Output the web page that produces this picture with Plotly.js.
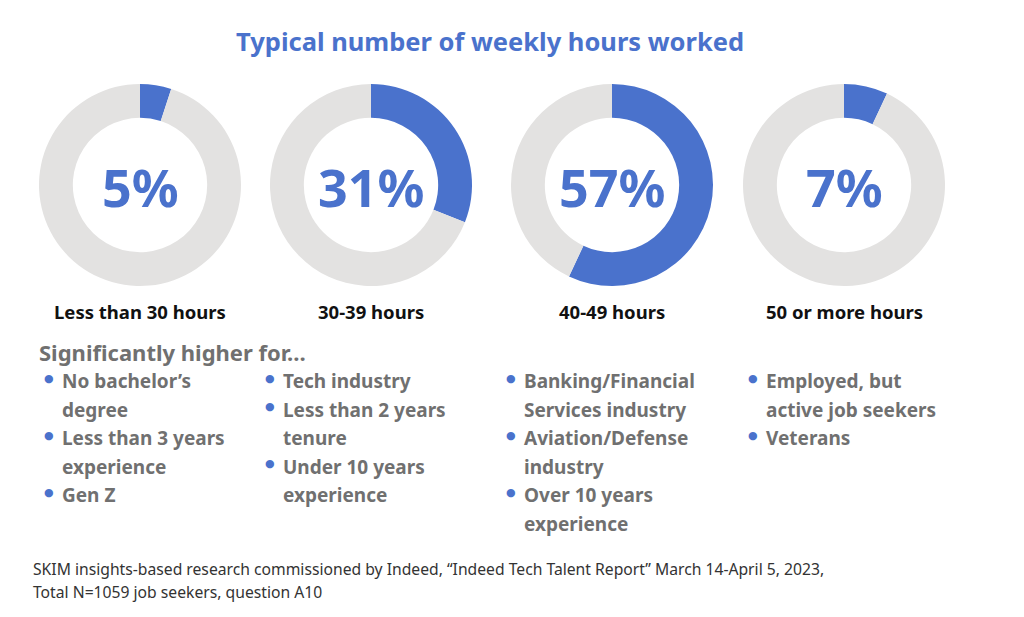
<!DOCTYPE html>
<html>
<head>
<meta charset="utf-8">
<script src="https://cdn.plot.ly/plotly-3.0.1.min.js"></script>
<style>html,body{margin:0;padding:0;background:#fff;}#chart{width:1024px;height:617px;}</style>
</head>
<body>
<div id="chart"></div>
<script>
const categories = ["Less than 30 hours", "30-39 hours", "40-49 hours", "50 or more hours"];
const shares = [5, 31, 57, 7];
const shareLabels = ["5%", "31%", "57%", "7%"];
const bulletsLess30 = [["No bachelor’s", "degree"], ["Less than 3 years", "experience"], ["Gen Z"]];
const bullets30to39 = [["Tech industry"], ["Less than 2 years", "tenure"], ["Under 10 years", "experience"]];
const bullets40to49 = [["Banking/Financial", "Services industry"], ["Aviation/Defense", "industry"], ["Over 10 years", "experience"]];
const bullets50plus = [["Employed, but", "active job seekers"], ["Veterans"]];
const chartTitle = "Typical number of weekly hours worked";
const subheading = "Significantly higher for…";
const footnoteLines = ["SKIM insights-based research commissioned by Indeed, “Indeed Tech Talent Report” March 14-April 5, 2023,", "Total N=1059 job seekers, question A10"];

const W = 1024, H = 617;
const BLUE = "#4a72cc", GREY = "#e3e2e1", TEXTGREY = "#707070";
const FONT = "Noto Sans, Open Sans, sans-serif";
const centersX = [140, 371, 612, 844];
const cy = 185, R = 101;
const px = x => x / W;
const py = y => 1 - y / H;

const data = shares.map((v, i) => ({
  type: "pie",
  values: [v, 100 - v],
  labels: [categories[i], "Other"],
  sort: false,
  direction: "clockwise",
  rotation: 0,
  hole: 0.665,
  textinfo: "none",
  hoverinfo: "label+value",
  marker: {colors: [BLUE, GREY], line: {width: 0}},
  domain: {x: [px(centersX[i] - R), px(centersX[i] + R)], y: [py(cy + R), py(cy - R)]},
  showlegend: false
}));

const annotations = [];
function ann(text, x, y, opts) {
  annotations.push(Object.assign({
    text: text, x: px(x), y: py(y), xref: "paper", yref: "paper",
    showarrow: false, xanchor: "center", yanchor: "middle"
  }, opts));
}

ann("<b>" + chartTitle + "</b>", 490, 41, {font: {family: FONT, size: 25.5, color: BLUE}});
shareLabels.forEach((t, i) => ann("<b>" + t + "</b>", centersX[i], 186, {font: {family: FONT, size: 52, color: BLUE}}));
categories.forEach((t, i) => ann("<b>" + t + "</b>", centersX[i], 311, {font: {family: FONT, size: 18.5, color: "#111"}}));
ann("<b>" + subheading + "</b>", 37, 352, {xanchor: "left", font: {family: FONT, size: 22, color: TEXTGREY}});

const groups = [bulletsLess30, bullets30to39, bullets40to49, bullets50plus];
const colDot = [49, 270, 511, 753];
const lineY0 = 381, lineStep = 28.6;
groups.forEach((items, gi) => {
  let li = 0;
  items.forEach(item => {
    ann("●", colDot[gi], lineY0 + li * lineStep - 3, {font: {family: "DejaVu Sans, sans-serif", size: 11, color: BLUE}});
    item.forEach(line => {
      ann("<b>" + line + "</b>", colDot[gi] + 11, lineY0 + li * lineStep, {xanchor: "left", font: {family: FONT, size: 19, color: TEXTGREY}});
      li++;
    });
  });
});

footnoteLines.forEach((t, i) => ann(t, 31, 569 + i * 23, {xanchor: "left", font: {family: FONT, size: 15.7, color: "#333"}}));

const layout = {
  width: W, height: H,
  margin: {l: 0, r: 0, t: 0, b: 0},
  paper_bgcolor: "#fff", plot_bgcolor: "#fff",
  showlegend: false,
  annotations: annotations
};
Plotly.newPlot("chart", data, layout, {displayModeBar: false, staticPlot: true});
</script>
</body>
</html>
